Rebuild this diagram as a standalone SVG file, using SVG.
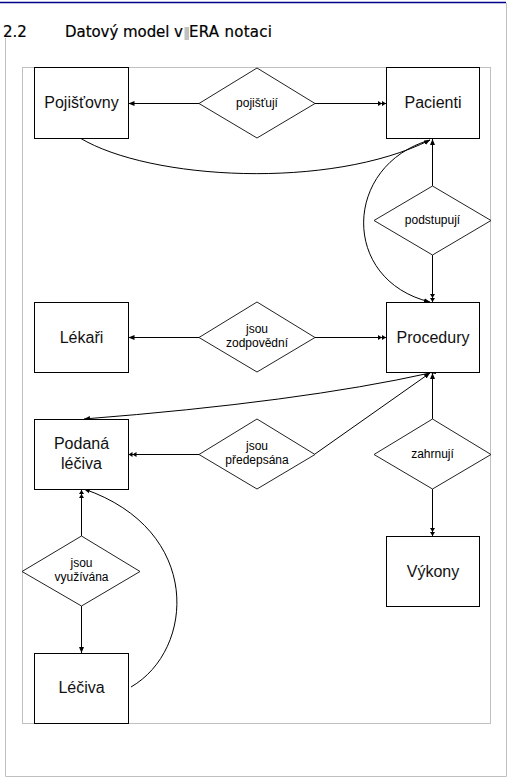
<svg xmlns="http://www.w3.org/2000/svg" width="513" height="783" viewBox="0 0 513 783">
<style>
.box{fill:#fff;stroke:#000;stroke-width:1}
.dia{fill:#fff;stroke:#222;stroke-width:1}
.lbl{font-family:"Liberation Sans",Arial,sans-serif;font-size:16px;fill:#111;text-anchor:middle}
.sm{font-family:"Liberation Sans",Arial,sans-serif;font-size:12px;fill:#000;text-anchor:middle}
.ttl{font-family:"DejaVu Sans",Verdana,sans-serif;font-size:15px;fill:#000;stroke:#000;stroke-width:0.2}
.ln{fill:none;stroke:#000;stroke-width:1}
</style>
<defs>
<marker id="one" viewBox="0 0 6 6" refX="6" refY="3" markerWidth="6" markerHeight="6" orient="auto" markerUnits="userSpaceOnUse"><path d="M0,0.5 L6,3 L0,5.5 z" fill="#000"/></marker>
<marker id="many" viewBox="0 0 8 6" refX="8" refY="3" markerWidth="8" markerHeight="6" orient="auto" markerUnits="userSpaceOnUse"><path d="M0,0.5 L4,3 L0,5.5 z M4,0.5 L8,3 L4,5.5 z" fill="#000"/></marker>
</defs>
<rect width="513" height="783" fill="#fff"/>
<g id="page">
<line x1="0" y1="2.5" x2="506" y2="2.5" stroke="#00008b" stroke-width="1.5"/>
<path d="M506.5,3 V776.5 H5.5 V38" fill="none" stroke="#c0c0c0" stroke-width="1"/>
<rect x="22.5" y="67.5" width="468" height="656" fill="none" stroke="#c0c0c0" stroke-width="1"/>
</g>
<g id="title">
<text class="ttl" x="3" y="37">2.2</text>
<text class="ttl" x="65" y="37" textLength="118" lengthAdjust="spacing">Datový model v</text>
<rect x="184.5" y="27" width="4.5" height="13" fill="#c0c0c0"/>
<text class="ttl" x="189" y="37" textLength="83" lengthAdjust="spacing">ERA notaci</text>
</g>
<g id="connectors">
<line class="ln" x1="199" y1="103.5" x2="128.5" y2="103.5" marker-end="url(#one)"/>
<line class="ln" x1="315" y1="103.5" x2="386" y2="103.5" marker-end="url(#many)"/>
<path class="ln" d="M80,138 C150,180 330,190 430,140" marker-end="url(#one)"/>
<line class="ln" x1="432.5" y1="186" x2="432.5" y2="139" marker-end="url(#one)"/>
<line class="ln" x1="432.5" y1="255" x2="432.5" y2="302" marker-end="url(#many)"/>
<path class="ln" d="M430,140 C343,165 340,280 430,302" marker-end="url(#one)"/>
<line class="ln" x1="199" y1="337.5" x2="128.5" y2="337.5" marker-end="url(#one)"/>
<line class="ln" x1="315" y1="337.5" x2="386" y2="337.5" marker-end="url(#many)"/>
<path class="ln" d="M430,373 Q300,402 84,419" marker-end="url(#one)" marker-start="url(#one)"/>
<line class="ln" x1="315" y1="454" x2="430" y2="373" marker-end="url(#one)"/>
<line class="ln" x1="199" y1="454.5" x2="128.5" y2="454.5" marker-end="url(#many)"/>
<line class="ln" x1="432.5" y1="419" x2="432.5" y2="373" marker-end="url(#one)"/>
<line class="ln" x1="432.5" y1="489" x2="432.5" y2="536" marker-end="url(#many)"/>
<line class="ln" x1="81.5" y1="536" x2="81.5" y2="490" marker-end="url(#many)"/>
<line class="ln" x1="81.5" y1="606" x2="81.5" y2="653" marker-end="url(#one)"/>
<path class="ln" d="M131,687 C195,650 203,530 84,489" marker-end="url(#one)"/>
</g>
<g id="n-pojistovny"><rect class="box" x="34.5" y="67.5" width="94" height="71"/><text class="lbl" x="81.5" y="108">Pojišťovny</text></g>
<g id="n-pacienti"><rect class="box" x="386.5" y="67.5" width="93" height="71"/><text class="lbl" x="433" y="108">Pacienti</text></g>
<g id="r-pojistuji"><polygon class="dia" points="199,103.5 257,68 315,103.5 257,138"/><text class="sm" x="257" y="107">pojišťují</text></g>
<g id="r-podstupuji"><polygon class="dia" points="374,220.5 432.5,186 491,220.5 432.5,255"/><text class="sm" x="432.5" y="224">podstupují</text></g>
<g id="n-lekari"><rect class="box" x="34.5" y="302.5" width="94" height="70"/><text class="lbl" x="81.5" y="343">Lékaři</text></g>
<g id="n-procedury"><rect class="box" x="386.5" y="302.5" width="93" height="70"/><text class="lbl" x="433" y="343">Procedury</text></g>
<g id="r-zodpovedni"><polygon class="dia" points="199,337.5 257,302 315,337.5 257,372"/><text class="sm" x="257" y="333">jsou</text><text class="sm" x="257" y="347">zodpovědní</text></g>
<g id="n-podana"><rect class="box" x="34.5" y="419.5" width="94" height="70"/><text class="lbl" x="81.5" y="449">Podaná</text><text class="lbl" x="81.5" y="469">léčiva</text></g>
<g id="r-predepsana"><polygon class="dia" points="199,454.5 257,419 315,454.5 257,489"/><text class="sm" x="257" y="450">jsou</text><text class="sm" x="257" y="464">předepsána</text></g>
<g id="r-zahrnuji"><polygon class="dia" points="374,454.5 432.5,419 491,454.5 432.5,489"/><text class="sm" x="432.5" y="458">zahrnují</text></g>
<g id="n-vykony"><rect class="box" x="386.5" y="536.5" width="93" height="70"/><text class="lbl" x="433" y="577">Výkony</text></g>
<g id="r-vyuzivana"><polygon class="dia" points="22,571.5 81.5,536 140,571.5 81.5,606"/><text class="sm" x="81.5" y="567">jsou</text><text class="sm" x="81.5" y="581">využívána</text></g>
<g id="n-leciva"><rect class="box" x="34.5" y="653.5" width="94" height="70"/><text class="lbl" x="81.5" y="693">Léčiva</text></g>
</svg>
